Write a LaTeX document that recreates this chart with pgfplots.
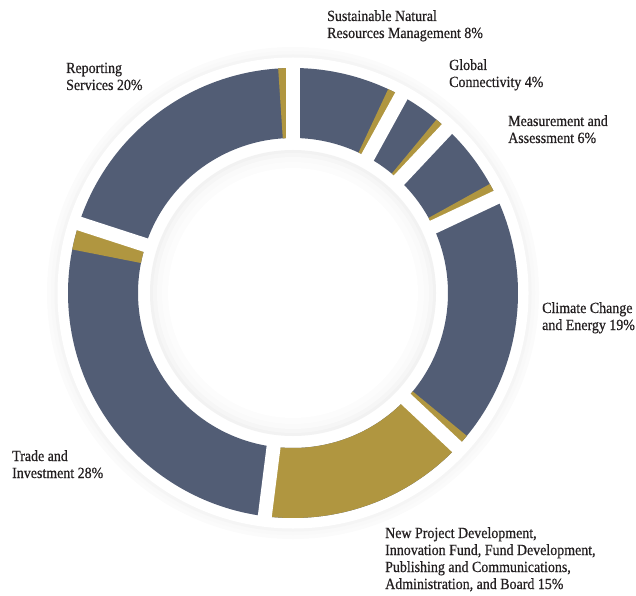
\documentclass[border=0pt]{standalone}
\usepackage{pgfplots}
\pgfplotsset{compat=1.18}
\usepackage{pgfplotstable}
\usepackage{fontspec}
\setmainfont{Liberation Serif}[FakeStretch=0.9, FakeBold=0.6]

\definecolor{slate}{HTML}{525D75}
\definecolor{ochre}{HTML}{B09640}
\definecolor{ink}{HTML}{231F20}

% share of budget (%) and width of the gold tail (%)
\pgfplotstableread{
pct  gold
8    1.05
4    1.0
6    1.05
19   1.05
15   15
28   1.9
20   1.05
}\shares

\newcommand\ang[2]{\csname a#1#2\endcsname}
\newcommand\ro{225pt}
\newcommand\ri{155pt}

\begin{document}
\begin{tikzpicture}
\path[use as bounding box] (0,0) rectangle (636pt,595pt);

% angles, clockwise from the top
\xdef\cum{0}
\foreach \i in {0,...,6}{
  \pgfplotstablegetelem{\i}{pct}\of\shares \let\p\pgfplotsretval
  \pgfplotstablegetelem{\i}{gold}\of\shares \let\g\pgfplotsretval
  \pgfmathsetmacro\aS{90-3.6*\cum}
  \pgfmathsetmacro\aE{90-3.6*(\cum+\p)}
  \pgfmathsetmacro\aG{\aE+3.6*\g}
  \expandafter\xdef\csname aS\i\endcsname{\aS}
  \expandafter\xdef\csname aE\i\endcsname{\aE}
  \expandafter\xdef\csname aG\i\endcsname{\aG}
  \pgfmathsetmacro\c{\cum+\p}
  \xdef\cum{\c}
}

\begin{axis}[
    anchor=south west, at={(0,0)},
    x=1pt, y=1pt,
    xmin=-293, xmax=343, ymin=-302, ymax=293,
    hide axis, clip=false,
]
% soft shadow round the white band
\fill[black!1.5] (axis cs:0,0) circle[radius=246pt];
\fill[black!2.5] (axis cs:0,0) circle[radius=242pt];
\fill[black!4] (axis cs:0,0) circle[radius=238.5pt];
\fill[white]   (axis cs:0,0) circle[radius=235.5pt];
\fill[black!5] (axis cs:0,0) circle[radius=143pt];
\fill[black!3.5] (axis cs:0,0) circle[radius=140pt];
\fill[black!2] (axis cs:0,0) circle[radius=136pt];
\fill[black!1] (axis cs:0,0) circle[radius=131pt];
\fill[white]   (axis cs:0,0) circle[radius=125pt];

\pgfplotsinvokeforeach{0,...,6}{
  \fill[slate, shift={(axis cs:0,0)}]
    (\ang{S}{#1}:\ro) arc[start angle=\ang{S}{#1}, end angle=\ang{E}{#1}, radius=\ro]
    -- (\ang{E}{#1}:\ri) arc[start angle=\ang{E}{#1}, end angle=\ang{S}{#1}, radius=\ri] -- cycle;
  \fill[ochre, shift={(axis cs:0,0)}]
    (\ang{G}{#1}:\ro) arc[start angle=\ang{G}{#1}, end angle=\ang{E}{#1}, radius=\ro]
    -- (\ang{E}{#1}:\ri) arc[start angle=\ang{E}{#1}, end angle=\ang{G}{#1}, radius=\ri] -- cycle;
}
\pgfplotsinvokeforeach{0,...,6}{
  \draw[white, line width=14pt, shift={(axis cs:0,0)}]
    (\ang{S}{#1}:147pt) -- (\ang{S}{#1}:233pt);
}
\end{axis}

\begin{scope}[every node/.style={anchor=base west, inner sep=0pt, text=ink,
    font=\fontsize{15.5}{17}\selectfont}]
\node at (327pt,574pt) {Sustainable Natural};
\node at (327pt,557pt) {Resources Management 8\%};
\node at (449pt,525pt) {Global};
\node at (449pt,508pt) {Connectivity 4\%};
\node at (508pt,469pt) {Measurement and};
\node at (508pt,452pt) {Assessment 6\%};
\node at (542pt,282pt) {Climate Change};
\node at (542pt,265pt) {and Energy 19\%};
\node at (385pt,57pt) {New Project Development,};
\node at (385pt,40pt) {Innovation Fund, Fund Development,};
\node at (385pt,23pt) {Publishing and Communications,};
\node at (385pt,6pt) {Administration, and Board 15\%};
\node at (12pt,134pt) {Trade and};
\node at (12pt,117pt) {Investment 28\%};
\node at (66pt,522pt) {Reporting};
\node at (66pt,505pt) {Services 20\%};
\end{scope}
\end{tikzpicture}
\end{document}
